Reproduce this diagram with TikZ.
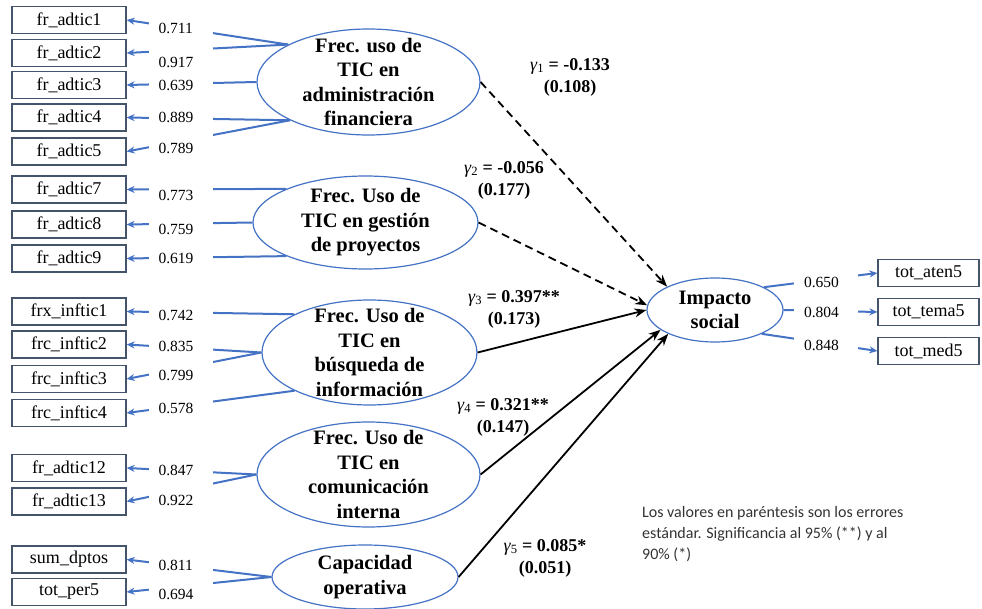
\documentclass[tikz,border=0pt]{standalone}
\usepackage{fontspec}
\setmainfont{Liberation Serif}
\newfontfamily\notafont{Carlito}
\usetikzlibrary{shapes,arrows,arrows.meta,positioning}
\definecolor{azul}{RGB}{68,114,196}
\definecolor{gris}{RGB}{68,84,106}
\newcommand{\gcoef}[1]{{\mdseries\itshape γ\textsubscript{\upshape #1}}}

\begin{document}
\begin{tikzpicture}[
    x=1pt, y=-1pt,
    latente/.style={ellipse,draw=azul,line width=1.2pt,inner sep=0pt},
    lat text/.style={align=center,font=\fontsize{20.5}{24.5}\selectfont\bfseries},
    obs/.style={rectangle,draw=gris,line width=1.2pt,minimum width=114pt,minimum height=27pt,inner sep=0pt,font=\fontsize{18}{20}\selectfont},
    val/.style={fill=white,text width=44pt,inner xsep=10pt,inner ysep=0pt,minimum height=32pt,font=\fontsize{15.5}{18}\selectfont},
    carga/.style={-{Stealth[length=8pt,width=7pt]},azul,line width=2pt},
    efecto/.style={-{Stealth[length=12pt,width=9pt]},line width=1.8pt},
    nosig/.style={dash pattern=on 8pt off 5pt},
    coef/.style={align=center,font=\fontsize{18}{22}\selectfont\bfseries},
    nota/.style={anchor=north west,align=left,inner sep=0pt,text=black!80,font=\notafont\fontsize{16}{21}\selectfont}
]
\useasboundingbox (0,0) rectangle (982,609);

% Constructos
\node[latente, minimum width=223pt, minimum height=106pt] (adm) at (368.5,82) {};
\node[latente, minimum width=225pt, minimum height=93pt] (pro) at (365.5,222.5) {};
\node[latente, minimum width=215pt, minimum height=105pt] (bus) at (369.5,352.5) {};
\node[latente, minimum width=223pt, minimum height=105pt] (com) at (368.5,474.5) {};
\node[latente, minimum width=186pt, minimum height=64pt] (cap) at (365,577) {};
\node[latente, minimum width=136pt, minimum height=64pt] (imp) at (715,310) {};

% Indicadores
\node[obs] (a1) at (69,20) {fr\_adtic1};
\node[obs] (a2) at (69,53) {fr\_adtic2};
\node[obs] (a3) at (69,85) {fr\_adtic3};
\node[obs] (a4) at (69,117.5) {fr\_adtic4};
\node[obs] (a5) at (69,151.5) {fr\_adtic5};
\node[obs] (a7) at (69,189.5) {fr\_adtic7};
\node[obs] (a8) at (69,224.5) {fr\_adtic8};
\node[obs] (a9) at (69,258.5) {fr\_adtic9};
\node[obs] (i1) at (69,311.5) {frx\_inftic1};
\node[obs] (i2) at (69,344.5) {frc\_inftic2};
\node[obs] (i3) at (69,379) {frc\_inftic3};
\node[obs] (i4) at (69,413) {frc\_inftic4};
\node[obs] (a12) at (69,468) {fr\_adtic12};
\node[obs] (a13) at (69,501.5) {fr\_adtic13};
\node[obs] (sd) at (69,559.5) {sum\_dptos};
\node[obs] (tp) at (69,592) {tot\_per5};
\node[obs, minimum width=101pt] (ta) at (928.5,273) {tot\_aten5};
\node[obs, minimum width=101pt] (tt) at (928.5,312) {tot\_tema5};
\node[obs, minimum width=101pt] (tm) at (928.5,351) {tot\_med5};

% Cargas
\draw[carga] (adm.155) -- (a1.east);
\draw[carga] (adm.155) -- (a2.east);
\draw[carga] (adm.west) -- (a3.east);
\draw[carga] (adm.206) -- (a4.east);
\draw[carga] (adm.206) -- (a5.east);
\draw[carga] (pro.157) -- (a7.east);
\draw[carga] (pro.west) -- (a8.east);
\draw[carga] (pro.203) -- (a9.east);
\draw[carga] (bus.153) -- (i1.east);
\draw[carga] (bus.west) -- (i2.east);
\draw[carga] (bus.west) -- (i3.east);
\draw[carga] (bus.207) -- (i4.east);
\draw[carga] (com.west) -- (a12.east);
\draw[carga] (com.west) -- (a13.east);
\draw[carga] (cap.west) -- (sd.east);
\draw[carga] (cap.west) -- (tp.east);
\draw[carga] (imp.25) -- (ta.west);
\draw[carga] (imp.east) -- (tt.west);
\draw[carga] (imp.333) -- (tm.west);

% Valores de las cargas
\node[val] (v1) at (180.5,28) {0.711};
\node[val] (v2) at (180.5,62) {0.917};
\node[val] (v3) at (180.5,85) {0.639};
\node[val] (v4) at (180.5,117) {0.889};
\node[val] (v5) at (180.5,148) {0.789};
\node[val] (v7) at (180.5,195) {0.773};
\node[val] (v8) at (180.5,229) {0.759};
\node[val] (v9) at (180.5,258) {0.619};
\node[val] (w1) at (180.5,315) {0.742};
\node[val] (w2) at (180.5,346) {0.835};
\node[val] (w3) at (180.5,375) {0.799};
\node[val] (w4) at (180.5,408) {0.578};
\node[val] (v12) at (180.5,470) {0.847};
\node[val] (v13) at (180.5,500) {0.922};
\node[val] (vsd) at (180.5,565) {0.811};
\node[val] (vtp) at (180.5,594) {0.694};
\node[val] (r1) at (826,282) {0.650};
\node[val] (r2) at (826,312) {0.804};
\node[val] (r3) at (826,345) {0.848};

% Textos de los constructos
\node[lat text] (adm-t) at (adm) {Frec. uso de\\TIC en\\administración\\financiera};
\node[lat text] (pro-t) at (pro) {Frec. Uso de\\TIC en gestión\\de proyectos};
\node[lat text] (bus-t) at (bus) {Frec. Uso de\\TIC en\\búsqueda de\\información};
\node[lat text] (com-t) at (com) {Frec. Uso de\\TIC en\\comunicación\\interna};
\node[lat text] (cap-t) at (cap) {Capacidad\\operativa};
\node[lat text] (imp-t) at (imp) {Impacto\\social};

% Efectos estructurales
\draw[efecto, nosig] (adm.east) -- (imp.154);
\draw[efecto, nosig] (pro.east) -- (imp.176);
\draw[efecto] (bus.east) -- (imp.west);
\draw[efecto] (com.east) -- (imp.200);
\draw[efecto] (cap.east) -- (imp.207);

% Coeficientes
\node[coef] (g1) at (570,77) {\gcoef{1} = -0.133\\(0.108)};
\node[coef] (g2) at (504,180) {\gcoef{2} = -0.056\\(0.177)};
\node[coef] (g3) at (514,309) {\gcoef{3} = 0.397**\\(0.173)};
\node[coef] (g4) at (503,417) {\gcoef{4} = 0.321**\\(0.147)};
\node[coef] (g5) at (545,558) {\gcoef{5} = 0.085*\\(0.051)};

% Nota
\node[nota] (nota) at (642,506) {Los valores en paréntesis son los errores\\estándar. Significancia al 95\% (**) y al\\90\% (*)};

\end{tikzpicture}
\end{document}
